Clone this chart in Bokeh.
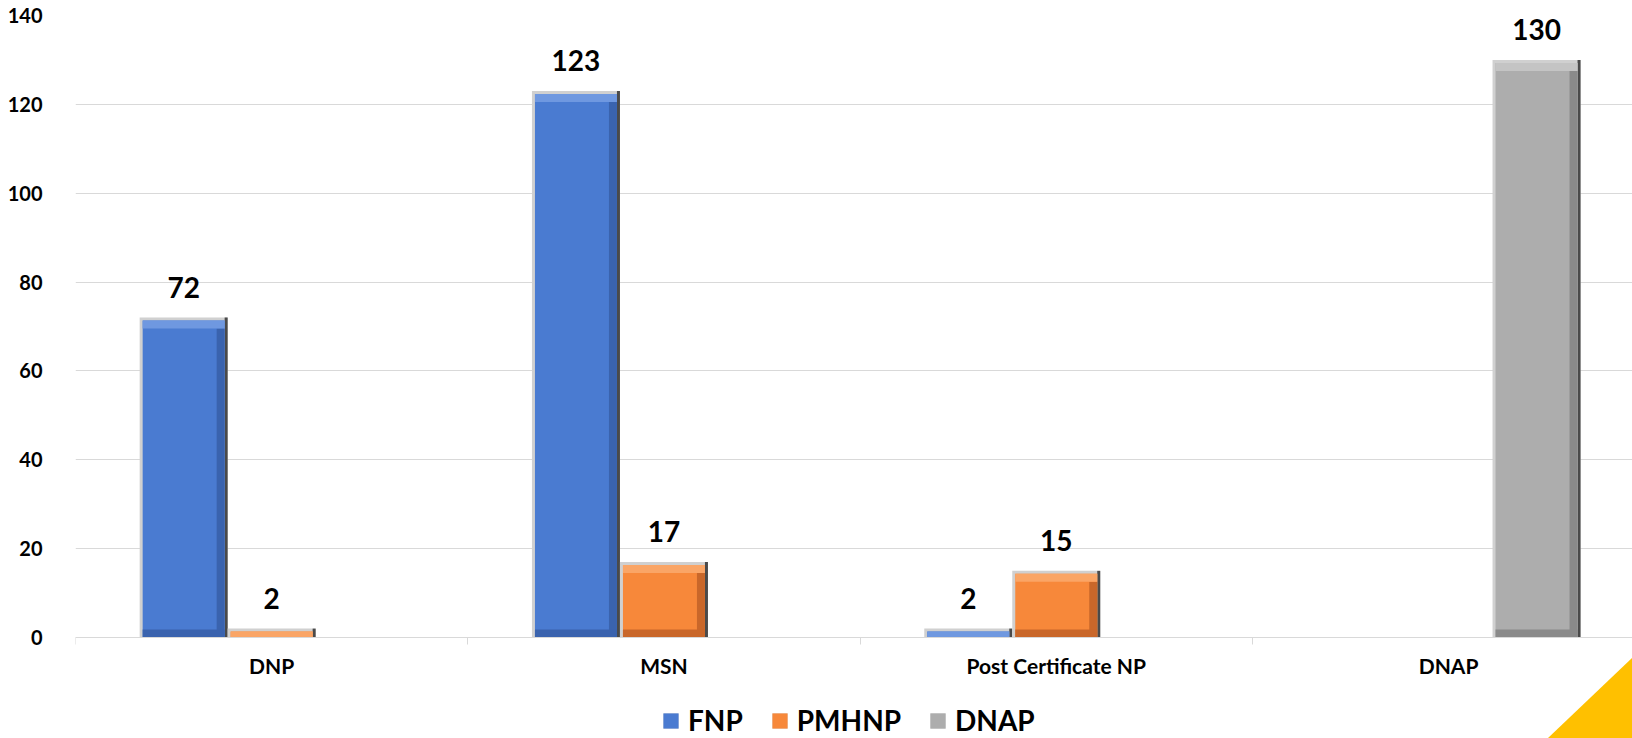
from bokeh.plotting import figure
from bokeh.models import (ColumnDataSource, FixedTicker, Range1d, LabelSet,
                          Legend, LegendItem, PolyAnnotation)
from bokeh.core.properties import value
from bokeh.embed import file_html
from bokeh.resources import INLINE

# ---- data ----
categories = ["DNP", "MSN", "Post Certificate NP", "DNAP"]
series = ["FNP", "PMHNP", "DNAP"]
fnp = [72, 123, 2, None]
pmhnp = [2, 17, 15, None]
dnap = [None, None, None, 130]
y_ticks = [0, 20, 40, 60, 80, 100, 120, 140]

# ---- style ----
FONT = "Lato"
main_col = {"FNP": "#4A7BD1", "PMHNP": "#F7883A", "DNAP": "#ADADAD"}
top_col = {"FNP": "#6F98E0", "PMHNP": "#FAA566", "DNAP": "#C4C4C4"}
dark_col = {"FNP": "#3A63AE", "PMHNP": "#C9672A", "DNAP": "#8A8A8A"}
EDGE_LIGHT = "#D0D0D0"
EDGE_DARK = "#4A4A4A"
GRID = "#D9D9D9"

W, H = 1632, 738
LEFT, TOP = 75, 15
ZERO_PX = 637                     # pixel row of value 0
FW, FH = W - LEFT, H - TOP
PX_X = 392.3                      # pixels per category
Y_MAX = 140
PX_Y = (ZERO_PX - TOP) / Y_MAX
Y_MIN = -(H - ZERO_PX) / PX_Y
BW = 0.2243                       # bar width (category units)

p = figure(width=W, height=H, output_backend="svg", toolbar_location=None,
           x_range=Range1d(0, FW / PX_X), y_range=Range1d(Y_MIN, Y_MAX),
           min_border_left=LEFT, min_border_right=0, min_border_top=TOP,
           min_border_bottom=0)
p.outline_line_color = None
p.background_fill_color = "white"
p.border_fill_color = "white"

# y axis
p.yaxis.ticker = FixedTicker(ticks=y_ticks)
p.ygrid.ticker = FixedTicker(ticks=y_ticks)
p.ygrid.grid_line_color = GRID
p.xgrid.visible = False
p.yaxis.axis_line_color = None
p.yaxis.major_tick_line_color = None
p.yaxis.minor_tick_line_color = None
p.yaxis.major_tick_out = 0
p.yaxis.major_label_standoff = 33
p.yaxis.major_label_text_font = FONT
p.yaxis.major_label_text_font_size = "20px"
p.yaxis.major_label_text_font_style = "bold"
p.yaxis.major_label_text_color = "black"

# x axis (category axis at value 0)
centers = [i + 0.5 for i in range(len(categories))]
bounds = [float(i) for i in range(len(categories) + 1)]
xa = p.xaxis[0]
xa.fixed_location = 0
xa.ticker = FixedTicker(ticks=centers, minor_ticks=bounds)
xa.major_label_overrides = {c: name for c, name in zip(centers, categories)}
xa.axis_line_color = GRID
xa.major_tick_line_color = None
xa.major_tick_out = 0
xa.major_tick_in = 0
xa.minor_tick_line_color = GRID
xa.minor_tick_out = 7
xa.minor_tick_in = 0
xa.major_label_standoff = 8
xa.major_label_text_font = FONT
xa.major_label_text_font_size = "21px"
xa.major_label_text_font_style = "bold"
xa.major_label_text_color = "black"

ex = 3 / PX_X
ey = 3 / PX_Y
bx = 8 / PX_X
by = 8 / PX_Y

legend_items = []
for k, (name, vals) in enumerate(zip(series, [fnp, pmhnp, dnap])):
    xs = [c + (k - 1) * BW for c, v in zip(centers, vals) if v is not None]
    tops = [v for v in vals if v is not None]
    L = [x - BW / 2 for x in xs]
    R = [x + BW / 2 for x in xs]
    src = ColumnDataSource(dict(
        x=xs, top=tops, text=[str(v) for v in tops],
        left=L, right=R, zero=[0] * len(xs),
        r_edge=[r - ex for r in R],
        in_l=[l + ex for l in L], in_r=[r - ex for r in R],
        in_top=[max(t - ey, 0) for t in tops],
        band_bot=[max(t - ey - by, 0) for t in tops],
        rb_l=[r - ex - bx for r in R],
        bot_top=[min(by, max(t - ey - by, 0)) for t in tops],
    ))
    outer = p.quad(left="left", right="right", bottom="zero", top="top", source=src,
                   fill_color=EDGE_LIGHT, line_color=None)
    p.quad(left="r_edge", right="right", bottom="zero", top="top", source=src,
           fill_color=EDGE_DARK, line_color=None)
    main = p.quad(left="in_l", right="in_r", bottom="zero", top="in_top", source=src,
                  fill_color=main_col[name], line_color=None)
    p.quad(left="rb_l", right="in_r", bottom="zero", top="band_bot", source=src,
           fill_color=dark_col[name], line_color=None)
    p.quad(left="in_l", right="in_r", bottom="zero", top="bot_top", source=src,
           fill_color=dark_col[name], line_color=None)
    p.quad(left="in_l", right="in_r", bottom="band_bot", top="in_top", source=src,
           fill_color=top_col[name], line_color=None)
    p.add_layout(LabelSet(x="x", y="top", text="text", source=src, y_offset=20,
                          text_align="center", text_baseline="alphabetic",
                          text_font=value(FONT), text_font_size="28px",
                          text_font_style="bold", text_color="black"))
    legend_items.append(LegendItem(label=name, renderers=[outer, main]))

legend = Legend(items=legend_items, orientation="horizontal",
                location=(586, 1), glyph_width=19, glyph_height=19,
                label_standoff=8, spacing=27, padding=0, margin=0,
                border_line_color=None, background_fill_alpha=0,
                label_text_font=FONT, label_text_font_size="28px",
                label_text_font_style="bold", label_text_color="black")
p.add_layout(legend, "center")

# decorative corner triangle
p.add_layout(PolyAnnotation(xs=[W - 85, W, W], ys=[H, H - 81, H],
                            xs_units="canvas", ys_units="canvas",
                            fill_color="#FFC000", fill_alpha=1, line_alpha=0))

open("out.html", "w").write(file_html(p, INLINE))
